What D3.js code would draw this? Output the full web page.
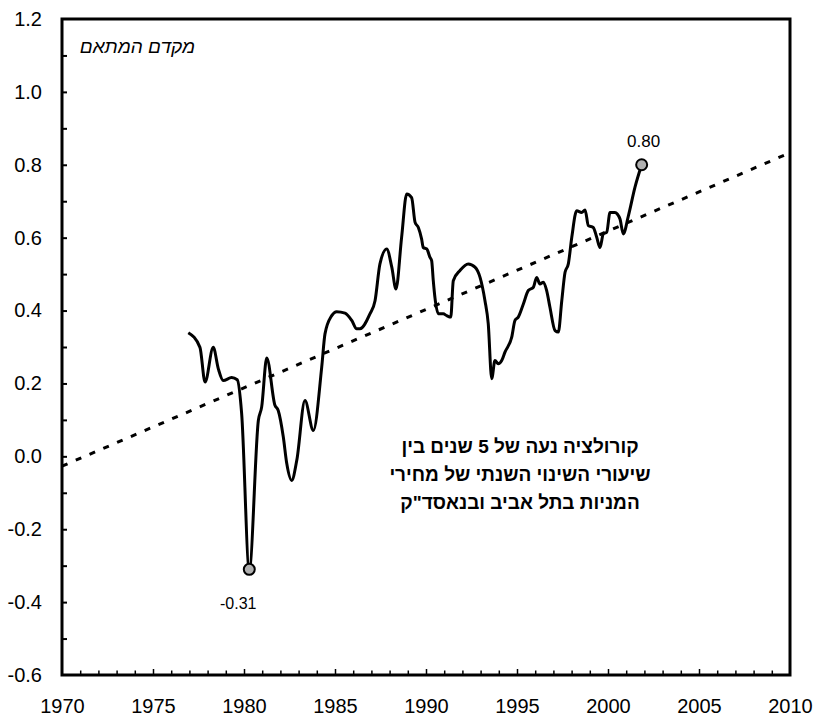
<!DOCTYPE html>
<html>
<head>
<meta charset="utf-8">
<script src="https://cdn.jsdelivr.net/npm/d3@7"></script>
<style>
  body { margin: 0; background: #fff; }
  svg { display: block; font-family: "Liberation Sans", Arial, sans-serif; }
</style>
</head>
<body>
<svg id="chart" width="813" height="718"></svg>
<script>
// ---- data ----
const years = [1976.94, 1977.58, 1977.86, 1978.31, 1978.59, 1978.86, 1979.32, 1979.63, 1979.87, 1980.29,
  1980.79, 1980.97, 1981.25, 1981.70, 1981.88, 1982.16, 1982.35, 1982.62, 1982.90, 1983.35,
  1983.81, 1984.27, 1984.45, 1984.82, 1985.09, 1985.55, 1985.92, 1986.19, 1986.37, 1986.92,
  1987.20, 1987.47, 1987.84, 1988.12, 1988.35, 1988.66, 1988.94, 1989.21, 1989.40, 1989.58,
  1989.76, 1989.85, 1990.04, 1990.22, 1990.31, 1990.40, 1990.49, 1990.68, 1990.95, 1991.14,
  1991.36, 1991.50, 1991.87, 1992.32, 1992.69, 1992.97, 1993.24, 1993.42, 1993.61, 1993.79,
  1993.97, 1994.16, 1994.34, 1994.71, 1994.89, 1995.07, 1995.35, 1995.62, 1995.90, 1996.08,
  1996.26, 1996.45, 1996.63, 1996.81, 1997.09, 1997.27, 1997.46, 1997.64, 1997.82, 1998.01,
  1998.28, 1998.55, 1998.74, 1998.92, 1999.19, 1999.38, 1999.56, 1999.74, 1999.93, 2000.11,
  2000.38, 2000.51, 2000.66, 2000.84, 2001.12, 2001.48, 2001.85];
const correlation = [0.339, 0.299, 0.204, 0.299, 0.240, 0.208, 0.216, 0.210, 0.118, -0.31,
  0.099, 0.135, 0.270, 0.140, 0.126, 0.053, -0.020, -0.066, -0.011, 0.153,
  0.071, 0.245, 0.336, 0.386, 0.397, 0.393, 0.373, 0.350, 0.350, 0.391,
  0.427, 0.528, 0.569, 0.519, 0.459, 0.601, 0.720, 0.710, 0.642, 0.628,
  0.596, 0.573, 0.569, 0.546, 0.537, 0.482, 0.436, 0.391, 0.391, 0.386,
  0.382, 0.482, 0.510, 0.528, 0.519, 0.491, 0.427, 0.364, 0.213, 0.263,
  0.254, 0.263, 0.286, 0.327, 0.373, 0.382, 0.418, 0.455, 0.464, 0.491,
  0.473, 0.478, 0.455, 0.409, 0.345, 0.341, 0.427, 0.505, 0.528, 0.601,
  0.674, 0.669, 0.676, 0.633, 0.628, 0.601, 0.573, 0.610, 0.615, 0.669,
  0.669, 0.665, 0.651, 0.610, 0.660, 0.738, 0.80];
const trendYears = [1970, 2010];
const trendValues = [-0.027, 0.833];
const highlightYears = [1980.29, 2001.85];
const highlightValues = [-0.31, 0.80];
const highlightLabels = ["-0.31", "0.80"];
const xTicks = [1970, 1975, 1980, 1985, 1990, 1995, 2000, 2005, 2010];
const yTicks = [-0.6, -0.4, -0.2, 0.0, 0.2, 0.4, 0.6, 0.8, 1.0, 1.2];
const yTickLabels = ["-0.6", "-0.4", "-0.2", "0.0", "0.2", "0.4", "0.6", "0.8", "1.0", "1.2"];
const yAxisTitle = "מקדם המתאם";
const noteLines = ["קורולציה נעה של 5 שנים בין", "שיעורי השינוי השנתי של מחירי", "המניות בתל אביב ובנאסד\"ק"];

// ---- chart ----
const svg = d3.select("#chart");
const x = d3.scaleLinear().domain([1970, 2010]).range([62, 790]);
const y = d3.scaleLinear().domain([-0.6, 1.2]).range([675, 19]);

// minor ticks (inward)
svg.append("g").attr("transform", `translate(${x(1970)},0)`)
  .call(d3.axisLeft(y).tickValues(d3.range(-5, 12).map(d => d / 10)).tickSize(-5).tickFormat(""))
  .call(g => g.select(".domain").remove())
  .call(g => g.selectAll("line").attr("stroke", "#000").attr("stroke-width", 2));

svg.append("g").attr("transform", `translate(0,${y(-0.6)})`)
  .call(d3.axisBottom(x).tickValues(d3.range(1971, 2010)).tickSize(-5).tickFormat(""))
  .call(g => g.select(".domain").remove())
  .call(g => g.selectAll("line").attr("stroke", "#000").attr("stroke-width", 1.5)
    .attr("y2", d => d % 5 === 0 ? -6 : -4.5));

// labels
svg.append("g").attr("transform", `translate(${x(1970)},0)`)
  .call(d3.axisLeft(y).tickValues(yTicks).tickSize(0).tickPadding(20)
    .tickFormat((d, i) => yTickLabels[i]))
  .call(g => g.select(".domain").remove())
  .call(g => g.selectAll("text").attr("font-size", 20).attr("fill", "#000")
    .attr("font-family", "Liberation Sans, Arial, sans-serif"));

svg.append("g").attr("transform", `translate(0,${y(-0.6)})`)
  .call(d3.axisBottom(x).tickValues(xTicks).tickSize(0).tickPadding(24).tickFormat(d3.format("d")))
  .call(g => g.select(".domain").remove())
  .call(g => g.selectAll("text").attr("font-size", 20).attr("fill", "#000")
    .attr("font-family", "Liberation Sans, Arial, sans-serif"));

// trend line
svg.append("path")
  .datum(trendYears.map((d, i) => [d, trendValues[i]]))
  .attr("d", d3.line().x(d => x(d[0])).y(d => y(d[1])))
  .attr("fill", "none").attr("stroke", "#000").attr("stroke-width", 3)
  .attr("stroke-dasharray", "6,9");

// correlation line
svg.append("path")
  .datum(years.map((d, i) => [d, correlation[i]]))
  .attr("d", d3.line().curve(d3.curveMonotoneX).x(d => x(d[0])).y(d => y(d[1])))
  .attr("fill", "none").attr("stroke", "#000").attr("stroke-width", 3)
  .attr("stroke-linejoin", "round");

// frame
svg.append("rect")
  .attr("x", x(1970)).attr("y", y(1.2))
  .attr("width", x(2010) - x(1970)).attr("height", y(-0.6) - y(1.2))
  .attr("fill", "none").attr("stroke", "#000").attr("stroke-width", 3);

// highlight markers
svg.selectAll("circle.hl").data(highlightYears).join("circle")
  .attr("class", "hl")
  .attr("cx", d => x(d)).attr("cy", (d, i) => y(highlightValues[i]))
  .attr("r", 5.5).attr("fill", "#b0b0b0").attr("stroke", "#000").attr("stroke-width", 2);

svg.append("text").attr("x", x(highlightYears[0]) - 11).attr("y", y(highlightValues[0]) + 40)
  .attr("text-anchor", "middle").attr("font-size", 16).text(highlightLabels[0]);
svg.append("text").attr("x", x(highlightYears[1]) + 2).attr("y", y(highlightValues[1]) - 18)
  .attr("text-anchor", "middle").attr("font-size", 17).text(highlightLabels[1]);

// y axis title (italic Hebrew)
svg.append("text").attr("x", 195).attr("y", 53)
  .attr("text-anchor", "start").attr("direction", "rtl")
  .attr("font-size", 19).attr("font-style", "italic").text(yAxisTitle);

// note
svg.append("g").selectAll("text").data(noteLines).join("text")
  .attr("x", 520).attr("y", (d, i) => 453 + i * 28)
  .attr("text-anchor", "middle").attr("direction", "rtl")
  .attr("font-size", 19).attr("font-weight", "bold").text(d => d);
</script>
</body>
</html>
